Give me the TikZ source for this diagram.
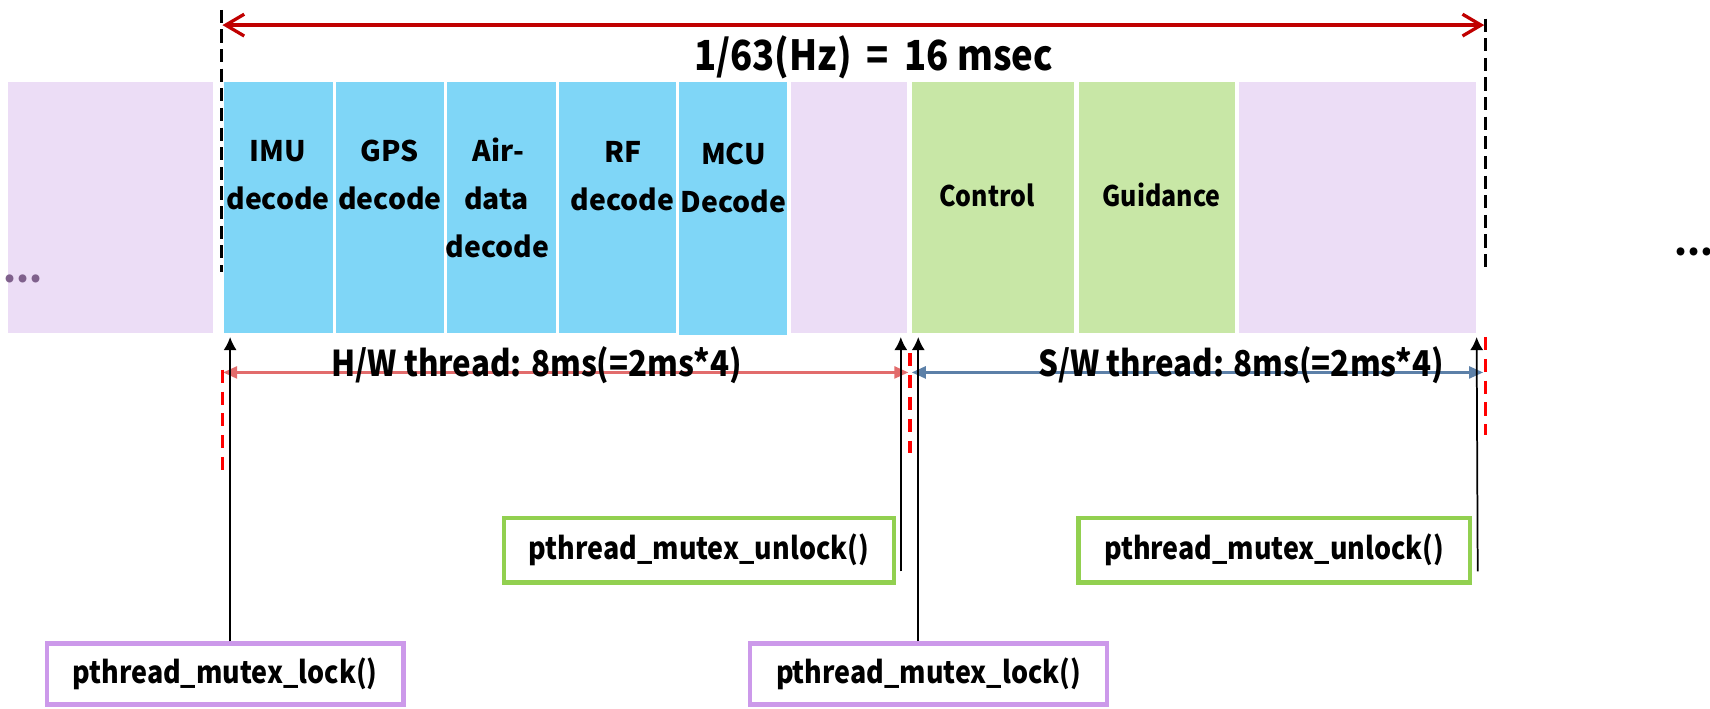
\documentclass[tikz,border=0pt]{standalone}
\usepackage{fontspec}
\setmainfont{Noto Sans CJK KR}
\newfontfamily\condfont{Noto Sans CJK KR}[FakeStretch=0.88]
\usetikzlibrary{arrows.meta}
\definecolor{segblue}{RGB}{127,214,247}
\definecolor{seglav}{RGB}{236,221,246}
\definecolor{seggrn}{RGB}{200,231,166}
\definecolor{toparr}{RGB}{192,0,0}
\definecolor{hwline}{RGB}{226,108,108}
\definecolor{swline}{RGB}{92,128,168}
\definecolor{dashred}{RGB}{255,0,0}
\definecolor{gborder}{RGB}{146,208,80}
\definecolor{pborder}{RGB}{204,153,234}
\definecolor{dotgray}{RGB}{127,96,140}
\begin{document}
\begin{tikzpicture}[x=0.5pt,y=-0.5pt,
  seg/.style={inner sep=0pt, outer sep=0pt, minimum height=115pt, draw=none},
  segtxt/.style={inner sep=0pt, anchor=base, font=\bfseries\fontsize{13}{13}\selectfont},
  segctxt/.style={inner sep=0pt, anchor=base, font=\condfont\bfseries\fontsize{13}{13}\selectfont},
  calltxt/.style={font=\condfont\bfseries\fontsize{14}{14}\selectfont},
  lockbox/.style={draw=pborder, line width=2pt, fill=white, minimum width=163.5pt, minimum height=28pt, inner sep=0pt, calltxt},
  unlockbox/.style={draw=gborder, line width=2pt, fill=white, minimum height=29.5pt, inner sep=0pt, calltxt},
  blackdash/.style={line width=1.3pt, dash pattern=on 6pt off 3pt},
  reddash/.style={dashred, line width=1.5pt, dash pattern=on 6pt off 4pt},
  uparrow/.style={line width=0.8pt, -{Latex[length=6pt,width=6pt]}},
  span/.style={line width=1.2pt, {Triangle[length=6.5pt,width=5.5pt]}-{Triangle[length=6.5pt,width=5.5pt]}},
  thrtxt/.style={inner sep=0pt, anchor=base, font=\condfont\bfseries\fontsize{16.3}{16.3}\selectfont},
  dottxt/.style={inner sep=0pt, anchor=base, font=\bfseries\fontsize{17}{17}\selectfont}
]
\useasboundingbox (0,0) rectangle (1568,650);

% segments
\node[seg, fill=seglav, minimum width=94pt] (p1) at (101,190) {};
\node[seg, fill=segblue, minimum width=50pt] (imu) at (255,190) {};
\node[seg, fill=segblue, minimum width=49.5pt] (gps) at (357.5,190) {};
\node[seg, fill=segblue, minimum width=50pt] (air) at (460,190) {};
\node[seg, fill=segblue, minimum width=53.5pt] (rf) at (566.5,190) {};
\node[seg, fill=segblue, minimum width=49.5pt, minimum height=116pt] (mcu) at (672.5,191) {};
\node[seg, fill=seglav, minimum width=53.5pt] (p2) at (778.5,190) {};
\node[seg, fill=seggrn, minimum width=74.5pt] (ctl) at (910.5,190) {};
\node[seg, fill=seggrn, minimum width=71.5pt] (gui) at (1060.5,190) {};
\node[seg, fill=seglav, minimum width=108.5pt] (p3) at (1244.5,190) {};

% segment texts
\node[segtxt] (imuA) at (255,148.5) {IMU};
\node[segtxt] (imuB) at (255,192.5) {decode};
\node[segtxt] (gpsA) at (357.5,148.5) {GPS};
\node[segtxt] (gpsB) at (357.5,192.5) {decode};
\node[segtxt] (airA) at (457,148.5) {Air-};
\node[segtxt] (airB) at (455,192.5) {data};
\node[segtxt] (airC) at (456,236) {decode};
\node[segtxt] (rfA) at (571,149) {RF};
\node[segtxt] (rfB) at (571,193) {decode};
\node[segtxt] (mcuA) at (672.5,151) {MCU};
\node[segtxt] (mcuB) at (672.5,195) {Decode};
\node[segctxt] (ctlA) at (905,189.5) {Control};
\node[segctxt] (guiA) at (1065,189.5) {Guidance};

% dots
\node[dottxt, text=dotgray] (dl) at (21,259) {...};
\node[dottxt, text=black] (dr) at (1553,234) {...};

% frame dashed lines
\coordinate (dlt) at (203,9);
\coordinate (dlb) at (203,249);
\coordinate (drt) at (1362,17);
\coordinate (drb) at (1362,247);
\draw[blackdash] (dlt) -- (dlb);
\draw[blackdash] (drt) -- (drb);

% top period arrow
\coordinate (ta) at (204,23);
\coordinate (tb) at (1361,23);
\draw[toparr, line width=1.5pt, {Straight Barb[length=8.5pt,width=10pt,line width=1.5pt]}-{Straight Barb[length=8.5pt,width=10pt,line width=1.5pt]}] (ta) -- (tb);
\node[inner sep=0pt, anchor=base, font=\condfont\bfseries\fontsize{19}{19}\selectfont] (title) at (801,65) {1/63(Hz)\,\ =\ \,16 msec};

% thread spans
\coordinate (hw0) at (204.5,341.5);
\coordinate (hw1) at (833,341.5);
\coordinate (sw0) at (836,341.5);
\coordinate (sw1) at (1360,341.5);
\draw[span, hwline] (hw0) -- (hw1);
\draw[span, swline] (sw0) -- (sw1);
\node[thrtxt] (hwt) at (492,345.5) {H/W thread: 8ms(=2ms*4)};
\node[thrtxt] (swt) at (1138,345.5) {S/W thread: 8ms(=2ms*4)};

% red dashed markers
\coordinate (r1a) at (204,339);
\coordinate (r1b) at (204,433);
\coordinate (r2a) at (834.5,324);
\coordinate (r2b) at (834.5,415);
\coordinate (r3a) at (1362,309);
\coordinate (r3b) at (1362,399);
\draw[reddash] (r1a) -- (r1b);
\draw[reddash] (r2a) -- (r2b);
\draw[reddash] (r3a) -- (r3b);

% call boxes
\node[lockbox] (lock1) at (206.5,618) {pthread\_mutex\_lock()};
\node[lockbox] (lock2) at (851.5,618) {pthread\_mutex\_lock()};
\node[unlockbox, minimum width=179pt] (unl1) at (641,504.5) {pthread\_mutex\_unlock()};
\node[unlockbox, minimum width=179.5pt] (unl2) at (1168.5,504.5) {pthread\_mutex\_unlock()};

% arrows to timeline
\coordinate (k1) at (211,309);
\coordinate (k2) at (842,309);
\coordinate (k3) at (826,309);
\coordinate (k4) at (1354,309);
\draw[uparrow] (lock1.north -| k1) -- (k1);
\draw[uparrow] (lock2.north -| k2) -- (k2);
\draw[uparrow] ([shift={(4,-12)}]unl1.south east) -- (k3);
\draw[uparrow] ([shift={(5,-12)}]unl2.south east) -- (k4);
\end{tikzpicture}
\end{document}
